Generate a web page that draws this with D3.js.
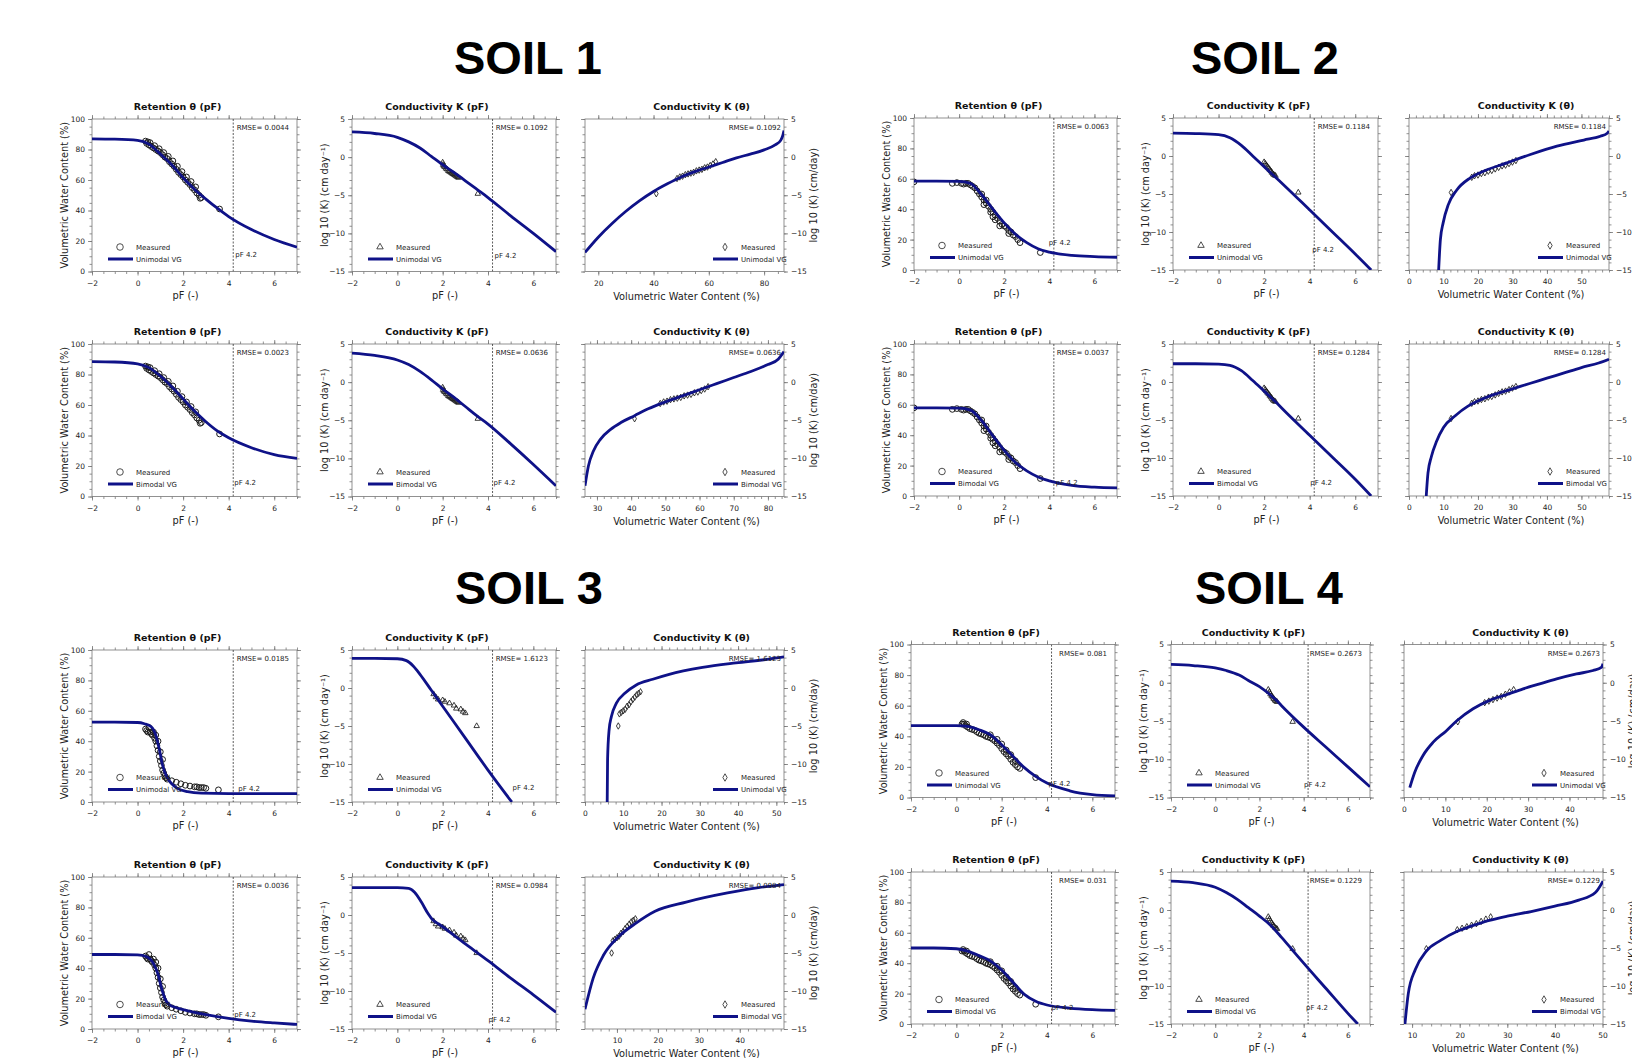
<!DOCTYPE html>
<html>
<head>
<meta charset="utf-8">
<script src="https://cdn.jsdelivr.net/npm/d3@7"></script>
<style>
body{margin:0;background:#fff}
svg text{font-family:"DejaVu Sans",Verdana,sans-serif;fill:#222}
</style>
</head>
<body>
<svg id="map" width="1632" height="1058"></svg>
<script>
// ---- values ----
var soilTitles = ['SOIL 1','SOIL 2','SOIL 3','SOIL 4']
var fitNames = ['Unimodal VG','Bimodal VG']
var rmseValues = [
  ['0.0044','0.1092','0.1092'], ['0.0023','0.0636','0.0636'],
  ['0.0063','0.1184','0.1184'], ['0.0037','0.1284','0.1284'],
  ['0.0185','1.6123','1.6123'], ['0.0036','0.0984','0.0984'],
  ['0.081','0.2673','0.2673'],  ['0.031','0.1229','0.1229']
]
var pfTicks = [-2,0,2,4,6]
var retTicks = [0,20,40,60,80,100]
var logKTicks = [-15,-10,-5,0,5]
var thetaTicks = [[20,40,60,80],[30,40,50,60,70,80],[0,10,20,30,40,50],[0,10,20,30,40,50],
                  [0,10,20,30,40,50],[10,20,30,40],[0,10,20,30,40],[10,20,30,40,50]]
var thetaMinorStep = [5,2,2,2,2,2,2,2]
var thetaDomain = [[15.2,87.2],[26.5,84.7],[0,58],[0,58],[0,52],[2.2,50.8],[0,48.1],[8.3,50.1]]

// soil 1
var s1RetUni = [[-2,87],[-1,86.8],[0,86],[0.5,83.5],[1,77],[1.5,70],[2,61.5],[2.5,54],[3,47.5],[3.5,41.5],[4,36],[5,27.5],[6,21],[7,16]]
var s1KpfUni = [[-2,3.3],[-1,3.1],[0,2.6],[0.5,2.0],[1,1.2],[1.5,0.1],[2,-1.0],[2.5,-2.0],[3,-3.1],[3.5,-4.2],[4,-5.3],[5,-7.7],[6,-10.0],[7,-12.4]]
var s1KthUni = [[15.2,-12.5],[20,-10.5],[25,-8.7],[30,-7.1],[35,-5.7],[40,-4.5],[45,-3.5],[50,-2.6],[55,-1.9],[60,-1.3],[65,-0.7],[70,-0.1],[75,0.4],[80,0.95],[84,1.6],[86,2.2],[86.8,2.9],[87.2,3.5]]
var s1RetBi = [[-2,88.5],[-1,88.2],[0,87],[0.5,84.5],[1,79],[1.5,72],[2,64],[2.5,56],[3,49],[3.5,43],[4,38.5],[5,32],[6,27.5],[7,25]]
var s1KpfBi = [[-2,3.8],[-1,3.5],[0,2.9],[0.5,2.3],[1,1.4],[1.5,0.3],[2,-0.9],[2.5,-2.0],[3,-3.2],[3.5,-4.4],[4,-5.5],[5,-8.1],[6,-10.8],[7,-13.6]]
var s1KthBi = [[26.5,-13.6],[27.5,-11],[29,-9],[31,-7.5],[34,-6.2],[37,-5.3],[41,-4.4],[45,-3.5],[50,-2.6],[55,-1.8],[60,-1.0],[65,-0.2],[70,0.6],[75,1.4],[80,2.3],[83,3.0],[84.7,4.0]]
var s1RetMeas = [[0.35,85.5],[0.4,84],[0.45,85],[0.5,83],[0.55,84.5],[0.6,82],[0.7,81],[0.75,82.5],[0.8,80],[0.9,79],[0.95,80.5],[1.0,78],[1.1,76.5],[1.15,78],[1.2,75],[1.3,74],[1.35,75.5],[1.4,72],[1.5,70.5],[1.55,72.5],[1.6,69],[1.7,67],[1.75,69],[1.8,65],[1.9,63.5],[1.95,65.5],[2.0,62],[2.1,60],[2.15,62],[2.2,58.5],[2.3,57],[2.35,59],[2.4,55],[2.5,53.5],[2.55,55.5],[2.6,51.5],[2.7,50],[2.75,48],[2.8,48.5],[3.6,41]]
var s1KpfMeas = [[2.0,-0.7],[2.02,-1.0],[2.05,-1.2],[2.1,-1.3],[2.15,-1.5],[2.2,-1.6],[2.25,-1.8],[2.3,-1.9],[2.35,-2.0],[2.4,-2.1],[2.45,-2.2],[2.5,-2.3],[2.55,-2.4],[2.6,-2.5],[2.65,-2.6],[2.7,-2.7],[3.55,-4.8]]
var s1KthMeas = [[41,-4.8],[48.5,-2.8],[49.5,-2.6],[50.5,-2.5],[51.5,-2.3],[52.5,-2.2],[53.5,-2.1],[54.5,-2.0],[55.5,-1.8],[56.5,-1.7],[57.5,-1.6],[58.5,-1.4],[59.5,-1.3],[60.5,-1.1],[61.5,-0.9],[62.5,-0.6]]

// soil 2
var s2RetUni = [[-2,58.5],[-1,58.5],[0,58.3],[0.5,57],[1,49.5],[1.5,40],[2,31],[2.5,23.5],[3,18],[3.5,14],[4,11.8],[5,9.6],[6,8.8],[7,8.4]]
var s2KpfUni = [[-2,3.0],[-1,2.95],[0,2.8],[0.5,2.4],[1,1.4],[1.5,0.0],[2,-1.4],[2.5,-2.8],[3,-4.2],[4,-7.1],[5,-10],[6,-12.9],[6.7,-15]]
var s2KthUni = [[8.6,-15],[9.1,-11],[9.9,-8.8],[11.4,-6.4],[13.8,-4.5],[17.7,-2.9],[21.6,-2.0],[28.4,-0.9],[35.2,0.2],[42.9,1.3],[50.7,2.1],[55.5,2.6],[57.5,3.0],[58,3.3]]
var s2RetBi = [[-2,58],[-1,58],[0,57.8],[0.5,56.5],[1,49.5],[1.5,39.5],[2,30],[2.5,22],[3,16.5],[3.5,12.5],[4,10],[5,7],[6,5.8],[7,5.3]]
var s2KpfBi = [[-2,2.4],[-1,2.4],[0,2.35],[0.5,2.2],[1,1.5],[1.5,0.2],[2,-1.2],[2.5,-2.6],[3,-4.1],[4,-7.0],[5,-9.9],[6,-12.8],[6.7,-15]]
var s2KthBi = [[5,-15],[5.5,-12],[6.5,-9.8],[8,-7.8],[10,-6.0],[13.5,-4.4],[17,-3.2],[20,-2.5],[25,-1.6],[30,-0.9],[35,-0.2],[40,0.5],[45,1.2],[50,1.9],[55,2.5],[58,3.0]]
var s2RetMeas = [[-2,58],[-0.3,57],[-0.1,57.5],[0.1,57],[0.2,56.5],[0.3,57],[0.4,57],[0.5,56],[0.6,55],[0.7,54],[0.8,52],[0.9,50],[1.0,48],[1.0,50],[1.1,46],[1.1,43],[1.2,44],[1.2,46],[1.3,42],[1.4,40],[1.4,38],[1.5,38],[1.5,35],[1.6,36],[1.6,33],[1.7,34],[1.8,32],[1.8,29],[1.9,30],[2.0,29],[2.1,28],[2.2,26],[2.2,24],[2.3,25],[2.4,23],[2.5,22],[2.6,20],[2.7,18],[3.6,11.5]]
var s2KpfMeas = [[2.0,-0.8],[2.05,-1.0],[2.1,-1.2],[2.15,-1.4],[2.2,-1.6],[2.25,-1.8],[2.3,-2.0],[2.35,-2.2],[2.4,-2.4],[2.45,-2.5],[2.5,-2.6],[3.5,-4.8]]
var s2KthMeas = [[12.2,-4.8],[18.2,-2.8],[19,-2.6],[20,-2.5],[21,-2.3],[22,-2.2],[23,-2.0],[24,-1.9],[25,-1.7],[26,-1.5],[27,-1.3],[28,-1.2],[29,-1.0],[30,-0.8],[31,-0.6]]

// soil 3
var s3RetUni = [[-2,52.5],[-1,52.5],[0,52.3],[0.3,51.5],[0.6,49.5],[0.8,44],[0.95,35],[1.1,24],[1.3,16],[1.5,12],[1.75,9],[2.2,6.8],[2.8,5.8],[4,5.5],[7,5.5]]
var s3KpfUni = [[-2,3.9],[-1,3.9],[0,3.85],[0.4,3.6],[0.7,2.9],[1.0,1.8],[1.5,-0.3],[2,-2.4],[3,-6.6],[4,-10.8],[5.05,-15]]
var s3KthUni = [[5.8,-15],[5.9,-9.4],[6.3,-5.5],[6.9,-3.75],[8.2,-2.0],[10.4,-0.7],[13.4,0.4],[17.7,1.15],[22,1.8],[30.7,2.7],[39.4,3.3],[48,3.8],[52,4.1]]
var s3RetBi = [[-2,49],[-1,49],[0,48.7],[0.4,47.5],[0.7,43],[0.9,36],[1.05,27],[1.2,20],[1.4,16],[1.7,14],[2,12.8],[2.5,11],[3,9.5],[4,7],[5,5.2],[6,4],[7,3]]
var s3KpfBi = [[-2,3.6],[-1,3.6],[0,3.6],[0.5,3.5],[0.76,3.0],[1.06,1.7],[1.36,0.16],[1.58,-0.7],[1.81,-1.15],[3,-3.8],[4,-6.0],[5,-8.3],[6,-10.5],[7,-12.8]]
var s3KthBi = [[2.2,-12.4],[4.2,-8.3],[6.7,-5.3],[10.5,-2.8],[14.3,-1.2],[19.3,0.5],[26.9,1.7],[37,2.9],[44.6,3.6],[50.8,4.0]]
var s3RetMeas = [[0.35,48],[0.4,47],[0.45,46],[0.5,49],[0.55,46],[0.6,45],[0.65,44],[0.7,46],[0.75,42],[0.8,40],[0.8,44],[0.85,37],[0.9,34],[0.9,40],[0.95,30],[1.0,27],[1.0,33],[1.05,24],[1.1,21],[1.1,28],[1.15,19],[1.2,17],[1.25,16],[1.3,15],[1.5,14],[1.7,13],[1.9,12],[2.1,11],[2.3,10.5],[2.5,10],[2.6,10],[2.7,9.5],[2.8,9.5],[2.9,9.5],[3.0,9],[3.55,8]]
var s3KpfMeas = [[1.6,-0.8],[1.7,-1.2],[1.8,-1.5],[2.0,-1.6],[2.1,-1.8],[2.3,-2.0],[2.5,-2.3],[2.6,-2.7],[2.8,-2.8],[2.9,-3.1],[3.0,-3.3],[3.5,-5.0]]
var s3KthMeas = [[8.7,-5.0],[9,-3.4],[9.5,-3.2],[10,-3.0],[10.5,-2.8],[11,-2.4],[11.5,-2.2],[12,-1.8],[12.5,-1.5],[13,-1.2],[13.5,-0.9],[14,-0.7],[14.5,-0.5]]

// soil 4
var s4RetUni = [[-2,47],[-1,47],[0,47],[0.5,46.5],[1,44.3],[1.5,41],[2,34.5],[2.5,27],[3,19.5],[3.5,13.8],[4,9.4],[5,4.4],[6,1.9],[7,1.1]]
var s4KpfUni = [[-2,2.4],[-1,2.25],[0,1.95],[0.5,1.6],[1.08,1.0],[1.5,0.3],[2,-0.5],[2.5,-1.6],[2.77,-2.3],[3,-3.0],[4,-5.8],[5,-8.4],[6,-11],[7,-13.6]]
var s4KthUni = [[1.4,-13.7],[2.6,-11.7],[4.6,-9.5],[7,-7.8],[10.2,-6.3],[12.7,-5.0],[16.7,-3.4],[20.7,-2.3],[24.8,-1.55],[28.8,-0.8],[32.8,-0.15],[36.9,0.5],[41.7,1.15],[45.7,1.6],[47.7,2.0],[48.1,2.5]]
var s4RetBi = [[-2,50],[-1,50],[0,49.5],[0.5,48],[1,45],[1.5,41.5],[2,35.5],[2.5,27.5],[3,19.5],[3.5,15],[4,12.5],[5,10.5],[6,9.5],[7,9]]
var s4KpfBi = [[-2,3.8],[-1,3.6],[0,3.0],[0.5,2.3],[1,1.4],[1.5,0.3],[2,-0.8],[2.5,-2.0],[3,-3.6],[3.5,-5.3],[4,-7.0],[5,-10.3],[6,-13.6],[6.45,-15]]
var s4KthBi = [[8.5,-15],[9.2,-11],[10.7,-7.8],[13,-5.4],[16,-4.0],[19.5,-2.8],[23,-2.0],[26,-1.4],[30,-0.8],[35,-0.2],[40,0.5],[45,1.3],[48.5,2.3],[50.1,3.8]]
var s4RetMeas = [[0.25,48],[0.3,49],[0.35,48],[0.4,47],[0.45,48],[0.5,46],[0.6,45],[0.7,44.5],[0.8,44],[0.9,43],[1.0,42],[1.1,41.5],[1.2,41],[1.3,40],[1.4,39.5],[1.5,39],[1.5,41],[1.6,38],[1.7,37],[1.8,35.5],[1.8,38],[1.9,34],[2.0,32],[2.0,35],[2.1,30],[2.2,28.5],[2.2,31],[2.3,27],[2.4,25],[2.4,28],[2.5,23],[2.6,21.5],[2.6,24],[2.7,20],[2.8,19],[3.5,13]]
var s4KpfMeas = [[2.4,-0.9],[2.45,-1.2],[2.5,-1.5],[2.55,-1.7],[2.6,-1.9],[2.65,-2.1],[2.7,-2.3],[2.75,-2.4],[2.8,-2.5],[3.5,-5.1]]
var s4KthMeas = [[13,-5.1],[19.5,-2.6],[20.5,-2.4],[21.5,-2.2],[22.5,-2.0],[23.5,-1.8],[24.5,-1.5],[25.5,-1.2],[26.5,-0.9]]

var retCurves = [s1RetUni,s1RetBi,s2RetUni,s2RetBi,s3RetUni,s3RetBi,s4RetUni,s4RetBi]
var kpfCurves = [s1KpfUni,s1KpfBi,s2KpfUni,s2KpfBi,s3KpfUni,s3KpfBi,s4KpfUni,s4KpfBi]
var kthCurves = [s1KthUni,s1KthBi,s2KthUni,s2KthBi,s3KthUni,s3KthBi,s4KthUni,s4KthBi]
var retMeas = [s1RetMeas,s2RetMeas,s3RetMeas,s4RetMeas]
var kpfMeas = [s1KpfMeas,s2KpfMeas,s3KpfMeas,s4KpfMeas]
var kthMeas = [s1KthMeas,s2KthMeas,s3KthMeas,s4KthMeas]

// ---- layout ----
var colsLeft = [[92,297],[352,556],[585,784]]
var colsSoil2 = [[914,1117],[1173,1378],[1409,1609]]
var colsSoil4 = [[911,1115],[1171,1370],[1404,1603]]
var rowY = [[119,271.5],[344,496.5],[118,270],[344,496],[650,802],[877,1029],[644.5,797.5],[872,1024]]
var titlePos = [[528,74],[1265,74],[529,604],[1269,604]]
// offset of the "pF 4.2" note from the dashed line / bottom, per row, [retention, K(pF)]
var pfNote = [[[2,-15],[2,-14]],[[1,-12],[1,-12]],[[-5,-25],[-2,-18]],[[2,-11],[-4,-11]],
              [[5,-11],[20,-12]],[[1,-12],[-4,-7]],[[-3,-12],[-4,-11]],[[0,-14],[-2,-14]]]

var navy = '#0f1288'
var svg = d3.select('svg#map')
var fmt = d3.format('d')

soilTitles.forEach(function(t,i){
  svg.append('text').attr('x',titlePos[i][0]).attr('y',titlePos[i][1])
    .attr('text-anchor','middle')
    .style('font-family','"Liberation Sans",Arial,sans-serif')
    .style('font-weight','bold').style('font-size','47px').style('fill','#000')
    .text(t)
})

function rangeIn(step,dom){
  var a = Math.ceil(dom[0]/step-1e-9)*step, out = []
  for(var v=a; v<=dom[1]+1e-9; v+=step){ out.push(+v.toFixed(6)) }
  return out
}

function axis(g,orient,scale,major,minor,pos,labeled){
  var mk = {bottom:d3.axisBottom,top:d3.axisTop,left:d3.axisLeft,right:d3.axisRight}[orient]
  var horiz = orient=='bottom'||orient=='top'
  var tr = horiz ? 'translate(0,'+pos+')' : 'translate('+pos+',0)'
  var a1 = g.append('g').attr('transform',tr)
    .call(mk(scale).tickValues(minor).tickSize(2.5).tickFormat(''))
  var a2 = g.append('g').attr('transform',tr)
    .call(mk(scale).tickValues(major).tickSize(4)
      .tickPadding(orient=='bottom'?5:3)
      .tickFormat(labeled?fmt:''))
  ;[a1,a2].forEach(function(a){
    a.select('.domain').remove()
    a.selectAll('line').attr('stroke','#777').attr('stroke-width',0.8)
    a.attr('font-family',null).attr('font-size',null)
    a.selectAll('text').style('font-size','7.5px').attr('fill','#222')
  })
}

function txt(g,x,y,s,size,anchor){
  return g.append('text').attr('x',x).attr('y',y).attr('text-anchor',anchor||'start')
    .style('font-size',size+'px').text(s)
}

function marker(kind){
  if(kind=='ret') return d3.symbol().type(d3.symbolCircle).size(26)
  if(kind=='kpf') return d3.symbol().type(d3.symbolTriangle).size(13)
  return d3.symbol().type(d3.symbolDiamond).size(12)
}

var clipId = 0
function drawPanel(o){
  var g = svg.append('g')
  var x = d3.scaleLinear().domain(o.xd).range([o.x0,o.x1])
  var y = d3.scaleLinear().domain(o.yd).range([o.y1,o.y0])
  var rightSide = o.kind=='kth'
  axis(g,'bottom',x,o.xMajor,o.xMinor,o.y1,true)
  axis(g,'top',x,o.xMajor,o.xMinor,o.y0,false)
  axis(g,'left',y,o.yMajor,o.yMinor,o.x0,!rightSide)
  axis(g,'right',y,o.yMajor,o.yMinor,o.x1,rightSide)
  g.append('rect').attr('x',o.x0).attr('y',o.y0).attr('width',o.x1-o.x0).attr('height',o.y1-o.y0)
    .attr('fill','none').attr('stroke','#777').attr('stroke-width',0.8)

  var id = 'clip'+(clipId++)
  g.append('clipPath').attr('id',id).append('rect')
    .attr('x',o.x0).attr('y',o.y0).attr('width',o.x1-o.x0).attr('height',o.y1-o.y0)
  var inner = g.append('g').attr('clip-path','url(#'+id+')')

  if(!rightSide){
    inner.append('line').attr('x1',x(4.2)).attr('x2',x(4.2)).attr('y1',o.y0).attr('y2',o.y1)
      .attr('stroke','#333').attr('stroke-width',0.8).attr('stroke-dasharray','2,1.5')
    txt(g,x(4.2)+o.note[0],o.y1+o.note[1],'pF 4.2',7)
  }

  var sym = marker(o.kind)
  inner.selectAll('path.m').data(o.meas).enter().append('path').attr('class','m')
    .attr('d',sym).attr('transform',function(d){return 'translate('+x(d[0])+','+y(d[1])+')'})
    .attr('fill','none').attr('stroke','#1a1a1a').attr('stroke-width',o.kind=='ret'?1:0.85)

  var line = d3.line().x(function(d){return x(d[0])}).y(function(d){return y(d[1])}).curve(d3.curveMonotoneX)
  inner.append('path').datum(o.curve).attr('d',line)
    .attr('fill','none').attr('stroke',navy).attr('stroke-width',2.8)

  // RMSE
  txt(g,o.x1-(rightSide?3:8),o.y0+11,'RMSE= '+o.rmse,7,'end')

  // legend
  var big = o.kind=='ret' ? d3.symbol().type(d3.symbolCircle).size(34)
          : o.kind=='kpf' ? d3.symbol().type(d3.symbolTriangle).size(18)
          : d3.symbol().type(d3.symbolDiamond).size(16)
  var lx = rightSide ? o.x1-71 : o.x0+16
  g.append('path').attr('d',big).attr('transform','translate('+(lx+12)+','+(o.y1-24.5)+')')
    .attr('fill','none').attr('stroke','#222').attr('stroke-width',0.8)
  txt(g,lx+28,o.y1-22,'Measured',7)
  g.append('line').attr('x1',lx).attr('x2',lx+25).attr('y1',o.y1-12.5).attr('y2',o.y1-12.5)
    .attr('stroke',navy).attr('stroke-width',3)
  txt(g,lx+28,o.y1-10,o.fit,7)

  // titles
  var cx = (o.x0+o.x1)/2
  var tcx = rightSide ? cx+17 : cx-17
  g.append('text').attr('x',tcx).attr('y',o.y0-9).attr('text-anchor','middle')
    .style('font-size','9.5px').style('font-weight','bold').style('fill','#111').text(o.title)
  if(o.kind=='kth'){
    txt(g,cx+2,o.y1+28,'Volumetric Water Content (%)',9.8,'middle')
  } else {
    txt(g,cx-9,o.y1+27,'pF (-)',9.8,'middle')
  }
  var ylab = o.kind=='ret' ? 'Volumetric Water Content (%)'
           : o.kind=='kpf' ? 'log 10 (K) (cm day\u207B\u00B9)' : 'log 10 (K) (cm/day)'
  var yx = rightSide ? o.x1+33 : o.x0-24
  g.append('text').attr('transform','translate('+yx+','+((o.y0+o.y1)/2)+') rotate(-90)')
    .attr('text-anchor','middle').style('font-size','9.8px').text(ylab)
}

for(var r=0;r<8;r++){
  var soil = Math.floor(r/2)
  var cols = (soil==0||soil==2) ? colsLeft : (soil==1 ? colsSoil2 : colsSoil4)
  var yy = rowY[r]
  var pfMinor = d3.range(-2,7.001,0.5)
  drawPanel({kind:'ret',title:'Retention \u03B8 (pF)',x0:cols[0][0],x1:cols[0][1],y0:yy[0],y1:yy[1],
    xd:[-2,7],yd:[0,100],xMajor:pfTicks,xMinor:pfMinor,yMajor:retTicks,yMinor:d3.range(0,100.001,5),
    curve:retCurves[r],meas:retMeas[soil],fit:fitNames[r%2],rmse:rmseValues[r][0],note:pfNote[r][0]})
  drawPanel({kind:'kpf',title:'Conductivity K (pF)',x0:cols[1][0],x1:cols[1][1],y0:yy[0],y1:yy[1],
    xd:[-2,7],yd:[-15,5],xMajor:pfTicks,xMinor:pfMinor,yMajor:logKTicks,yMinor:d3.range(-15,5.001,1),
    curve:kpfCurves[r],meas:kpfMeas[soil],fit:fitNames[r%2],rmse:rmseValues[r][1],note:pfNote[r][1]})
  drawPanel({kind:'kth',title:'Conductivity K (\u03B8)',x0:cols[2][0],x1:cols[2][1],y0:yy[0],y1:yy[1],
    xd:thetaDomain[r],yd:[-15,5],xMajor:thetaTicks[r],xMinor:rangeIn(thetaMinorStep[r],thetaDomain[r]),
    yMajor:logKTicks,yMinor:d3.range(-15,5.001,1),
    curve:kthCurves[r],meas:kthMeas[soil],fit:fitNames[r%2],rmse:rmseValues[r][2]})
}
</script>
</body>
</html>
